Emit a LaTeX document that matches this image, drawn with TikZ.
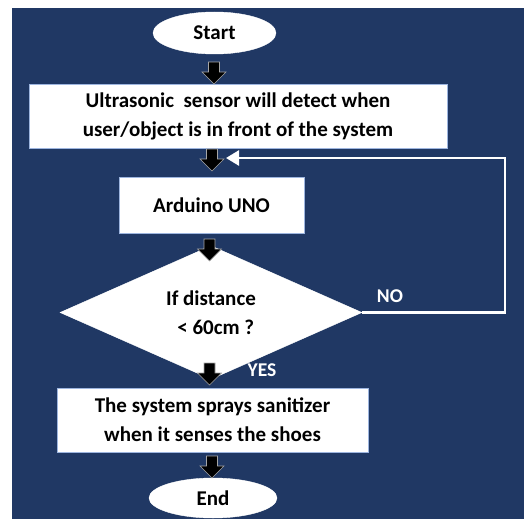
\documentclass[tikz,border=0pt]{standalone}
\usepackage{fontspec}
\setmainfont{Carlito}
\usetikzlibrary{shapes.geometric,arrows.meta}
\definecolor{bgblue}{HTML}{203864}
\definecolor{edgeblue}{HTML}{9DB5DF}
\tikzset{
  box/.style={rectangle, fill=white, draw=edgeblue, line width=0.8pt, inner sep=0pt, align=center,
    font=\fontsize{21}{29}\selectfont\bfseries, text=black},
  term/.style={ellipse, fill=white, draw=white, inner sep=0pt,
    font=\fontsize{21}{29}\selectfont\bfseries, text=black},
  decision/.style={diamond, fill=white, draw=white, inner sep=0pt, align=center,
    font=\fontsize{21}{29}\selectfont\bfseries, text=black},
  lbl/.style={font=\fontsize{19.5}{22}\selectfont\bfseries, text=white, inner sep=0pt},
  blockarr/.pic={\draw[fill=black, draw=white!65!black, line width=0.6pt]
    (-5.5,0) -- (5.5,0) -- (5.5,10) -- (12,10) -- (0,22) -- (-12,10) -- (-5.5,10) -- cycle;},
  loopline/.style={draw=white, line width=2.6pt, -{Triangle[width=15pt,length=13pt]}}
}
\begin{document}
\begin{tikzpicture}[x=1pt,y=-1pt]
\useasboundingbox (0,0) rectangle (524,519);
\fill[white] (0,0) rectangle (524,519);
\fill[bgblue] (12,8) rectangle (524,519);

\node[term, minimum width=123pt, minimum height=42pt] (start) at (214.5,33) {Start};
\node[box, minimum width=418pt, minimum height=64pt] (sensor) at (238,116)
  {Ultrasonic\ \ sensor will detect when\\user/object is in front of the system};
\node[box, minimum width=185pt, minimum height=56pt] (uno) at (211.5,205) {Arduino UNO};
\node[decision, minimum width=302pt, minimum height=97pt] (dist) at (211,312.5) {If distance\\\ \ {<} 60cm ?};
\node[box, minimum width=311pt, minimum height=64pt] (spray) at (212.5,420)
  {The system sprays sanitizer\\when it senses the shoes};
\node[term, minimum width=128pt, minimum height=40pt] (end) at (213,498) {End};

\pic at (214,62) {blockarr};
\pic at (212,149) {blockarr};
\coordinate (loopend) at (226,158);
\pic at (209.5,239) {blockarr};
\pic at (209.5,363) {blockarr};
\pic at (212,456) {blockarr};

\coordinate (loopcorner) at (505,158);
\draw[loopline] (dist.east) -| (loopcorner) -- (loopend);

\node[lbl] (no) at (390,296) {NO};
\node[lbl] (yes) at (262,370) {YES};
\end{tikzpicture}
\end{document}
